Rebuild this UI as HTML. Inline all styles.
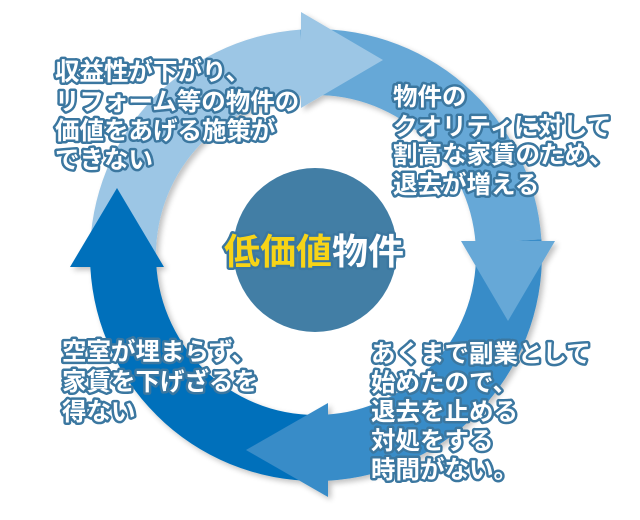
<!DOCTYPE html>
<html><head><meta charset="utf-8"><style>
html,body{margin:0;padding:0;background:#fff;}
svg{display:block;}
text{font-family:"Liberation Sans","Noto Sans CJK JP",sans-serif;font-weight:bold;}
</style></head><body>
<svg width="640" height="520" viewBox="0 0 640 520" xmlns="http://www.w3.org/2000/svg">
<defs>
<filter id="sh" x="-10%" y="-10%" width="120%" height="120%"><feGaussianBlur in="SourceAlpha" stdDeviation="3"/><feOffset dx="3" dy="3"/><feComponentTransfer><feFuncA type="linear" slope="0.25"/></feComponentTransfer><feMerge><feMergeNode/><feMergeNode in="SourceGraphic"/></feMerge></filter>
</defs>
<g filter="url(#sh)">
<path d="M90.3,266.8 A226,226 0 0 1 300.2,29.6 L304.8,95.4 A160,160 0 0 0 156.2,263.4 Z" fill="#9cc6e5"/>
<path d="M300.2,29.6 A226,226 0 0 1 541.4,239.2 L475.6,243.8 A160,160 0 0 0 304.8,95.4 Z" fill="#66a8d7"/>
<path d="M541.4,239.2 A226,226 0 0 1 327.8,480.7 L324.4,414.8 A160,160 0 0 0 475.6,243.8 Z" fill="#388cc8"/>
<path d="M327.8,480.7 A226,226 0 0 1 90.3,266.8 L156.2,263.4 A160,160 0 0 0 324.4,414.8 Z" fill="#0570bb"/>
<polygon points="301,12 383,60 301,108" fill="#9cc6e5"/>
<polygon points="461,241 555,241 508,321" fill="#66a8d7"/>
<polygon points="328,403 328,497 246,450" fill="#388cc8"/>
<polygon points="70,267 164,267 117,188" fill="#0570bb"/>
</g>
<circle cx="315" cy="250" r="82" fill="#427ea5"/>
<g stroke="#3b77a0" stroke-width="5" stroke-linejoin="round" paint-order="stroke" fill="#fff" font-size="24.5">
<text x="224" y="264" font-size="36"><tspan fill="#f7d417">低価値</tspan>物件</text>
<text x="55" y="80">収益性が下がり、</text>
<text x="55" y="110">リフォーム等の物件の</text>
<text x="55" y="139">価値をあげる施策が</text>
<text x="55" y="168">できない</text>
<text x="393" y="105">物件の</text>
<text x="393" y="135">クオリティに対して</text>
<text x="393" y="163">割高な家賃のため、</text>
<text x="393" y="193">退去が増える</text>
<text x="62" y="360">空室が埋まらず、</text>
<text x="62" y="390">家賃を下げざるを</text>
<text x="62" y="420">得ない</text>
<text x="371" y="362">あくまで副業として</text>
<text x="371" y="391">始めたので、</text>
<text x="371" y="420">退去を止める</text>
<text x="371" y="449">対処をする</text>
<text x="371" y="478">時間がない。</text>
</g>
</svg>
</body></html>
